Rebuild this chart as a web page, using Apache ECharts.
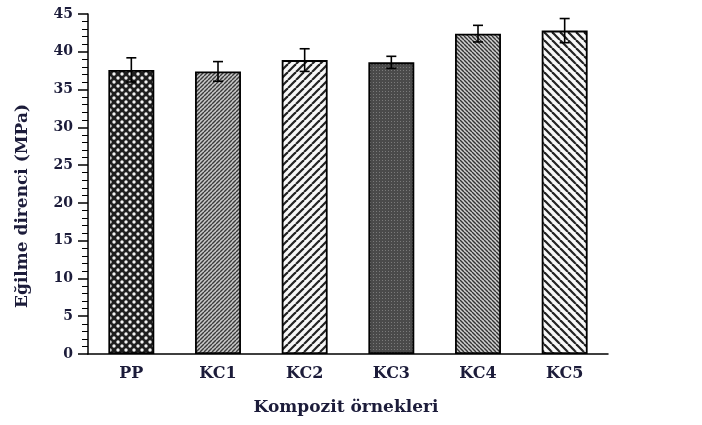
<!DOCTYPE html>
<html><head><meta charset="utf-8">
<script src="https://cdn.jsdelivr.net/npm/echarts@6/dist/echarts.min.js"></script>
<style>html,body{margin:0;padding:0;background:#fff}#c{width:702px;height:425px}</style>
</head><body><div id="c"></div>
<script>
const categories = ['PP','KC1','KC2','KC3','KC4','KC5'];
const values = [37.6, 37.4, 38.9, 38.6, 42.4, 42.8];
const errors = [1.6, 1.3, 1.5, 0.8, 1.1, 1.6];
const yTicks = [0,5,10,15,20,25,30,35,40,45];

function tile(size, draw){
  const c = document.createElement('canvas');
  c.width = size; c.height = size;
  const g = c.getContext('2d');
  draw(g, size);
  return {image: c, repeat: 'repeat'};
}
function diag(period, lw, fg, bg, dir){
  return tile(period, (g, s) => {
    g.fillStyle = bg; g.fillRect(0,0,s,s);
    g.strokeStyle = fg; g.lineWidth = lw;
    for (let k=-1;k<=1;k++){
      g.beginPath();
      if (dir > 0){ g.moveTo(k*s, s); g.lineTo(k*s + s, 0); }
      else { g.moveTo(k*s, 0); g.lineTo(k*s + s, s); }
      g.stroke();
    }
  });
}
const patterns = [
  tile(8, (g,s)=>{ g.fillStyle='#1e1e1e'; g.fillRect(0,0,s,s); g.fillStyle='#f2f2f2';
    [[2,2],[6,6],[-2,-2],[6,-2],[-2,6]].forEach(p=>{ g.beginPath(); g.arc(p[0],p[1],1.7,0,Math.PI*2); g.fill(); }); }),
  diag(4, 1.4, '#3a3a3a', '#c8c8c8', 1),
  diag(8, 2.2, '#222222', '#f7f7f7', 1),
  tile(3, (g,s)=>{ g.fillStyle='#4a4a4a'; g.fillRect(0,0,s,s); g.fillStyle='#7a7a7a'; g.fillRect(1,1,1,1); }),
  diag(4, 1.4, '#333333', '#cfcfcf', -1),
  diag(8, 2.2, '#222222', '#f8f8f8', -1)
];

const chart = echarts.init(document.getElementById('c'), null, {renderer:'canvas'});
const FONT = 'DejaVu Serif';
const TXT = '#1c1c3a';
chart.setOption({
  animation:false,
  grid:{left:88, right:94, top:14, bottom:71},
  xAxis:{type:'category', data:categories,
    axisLine:{lineStyle:{color:'#000', width:1.5}},
    axisTick:{alignWithLabel:true, length:5, lineStyle:{color:'#000', width:1.5}},
    axisLabel:{fontSize:16, margin:12, fontFamily:FONT, fontWeight:'bold', color:TXT}},
  yAxis:{type:'value', min:0, max:45, interval:5,
    axisLine:{show:true, lineStyle:{color:'#000', width:1.5}},
    axisTick:{show:true, length:10, lineStyle:{color:'#000', width:1.5}},
    minorTick:{show:true, splitNumber:5, length:6, lineStyle:{color:'#000', width:1}},
    splitLine:{show:false}, minorSplitLine:{show:false},
    axisLabel:{fontSize:14, margin:15, customValues:yTicks, fontFamily:FONT, fontWeight:'bold', color:TXT}},
  series:[
    {type:'bar', data:values.map((v,i)=>({value:v, itemStyle:{color:patterns[i]}})),
     barWidth:'53%', itemStyle:{borderColor:'#000', borderWidth:1.8}, z:2},
    {type:'custom', z:3,
     data:values.map((v,i)=>[i, v-errors[i], v+errors[i]]),
     renderItem:(params, api)=>{
       const lo = api.coord([api.value(0), api.value(1)]);
       const hi = api.coord([api.value(0), api.value(2)]);
       const w = 5;
       const st = {stroke:'#000', lineWidth:1.6};
       return {type:'group', children:[
         {type:'line', shape:{x1:lo[0], y1:lo[1], x2:hi[0], y2:hi[1]}, style:st},
         {type:'line', shape:{x1:hi[0]-w, y1:hi[1], x2:hi[0]+w, y2:hi[1]}, style:st},
         {type:'line', shape:{x1:lo[0]-w, y1:lo[1], x2:lo[0]+w, y2:lo[1]}, style:st}
       ]};
     }}
  ],
  graphic:[
    {type:'text', x:346, y:408, style:{text:'Kompozit örnekleri', font:'bold 17px "DejaVu Serif"', fill:TXT, align:'center', verticalAlign:'middle'}},
    {type:'text', x:23, y:206, rotation:Math.PI/2, style:{text:'Eğilme direnci (MPa)', font:'bold 17px "DejaVu Serif"', fill:TXT, align:'center', verticalAlign:'middle'}}
  ]
});
</script></body></html>
